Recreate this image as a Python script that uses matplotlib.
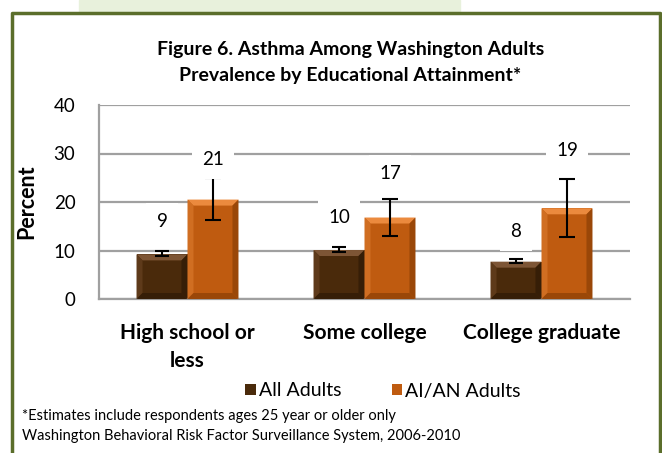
import numpy as np
import matplotlib
matplotlib.use('Agg')
import matplotlib.pyplot as plt
from matplotlib.patches import Rectangle, Polygon

plt.rcParams['font.family'] = ['Lato', 'DejaVu Sans']

categories = ['High school or\nless', 'Some college', 'College graduate']
series = ['All Adults', 'AI/AN Adults']
all_adults = [9.2, 10.1, 7.7]
all_lo = [8.8, 9.7, 7.4]
all_hi = [9.8, 10.7, 8.2]
aian = [20.5, 16.8, 18.7]
aian_lo = [16.3, 13.0, 12.7]
aian_hi = [24.9, 20.7, 24.8]
all_labels = ['9', '10', '8']
aian_labels = ['21', '17', '19']
# where the data labels sit (y, percent)
all_label_y = [15.9, 16.9, 13.9]
aian_label_y = [28.7, 25.8, 30.7]

colors = {'All Adults': ('#4a2a0b', '#7d5535', '#5e3a1a', '#361e07'),
          'AI/AN Adults': ('#bf5b10', '#eb8a3e', '#d06e22', '#9a4708')}

W, H = 662, 453
fig = plt.figure(figsize=(W / 100, H / 100), dpi=100)

# frame and green header strip
fig.patches.append(Rectangle((79 / W, 1 - 12 / H), (460 - 79) / W, 12 / H,
                             transform=fig.transFigure, color='#e8f1dc', zorder=0))
fig.lines.append(plt.Line2D([12 / W, 12 / W, 659.5 / W, 659.5 / W],
                            [0, 1 - 12.5 / H, 1 - 12.5 / H, 0],
                            transform=fig.transFigure, color='#5b6e2b', lw=2.5))

ax = fig.add_axes([99 / W, 1 - 299 / H, (630 - 99) / W, (299 - 105) / H])
ax.set_ylim(0, 40)
ax.set_xlim(-0.5, 2.5)
for s in ['top', 'right']:
    ax.spines[s].set_visible(False)
for s in ['left', 'bottom']:
    ax.spines[s].set_color('#a0a0a0')
    ax.spines[s].set_linewidth(1.6)
ax.set_yticks([0, 10, 20, 30, 40])
ax.yaxis.grid(True, color='#a0a0a0', lw=1.6)
ax.set_axisbelow(True)
ax.tick_params(axis='y', length=0, pad=17, labelsize=13.5)
ax.tick_params(axis='x', length=0, pad=17)

x = np.arange(len(categories))
bw = 0.288
bx = 6 / 177.0   # bevel width in data units
by = 6 / 194.0 * 40


def bevel_bars(xs, vals, name):
    base, top, side, dark = colors[name]
    bars = ax.bar(xs, vals, bw, color=base, edgecolor='none', zorder=2, label=name)
    for b in bars:
        x0, w, h = b.get_x(), b.get_width(), b.get_height()
        x1 = x0 + w
        ax.add_patch(Polygon([(x0, h), (x1, h), (x1 - bx, h - by), (x0 + bx, h - by)],
                             color=top, zorder=3, lw=0))
        ax.add_patch(Polygon([(x0, 0), (x0, h), (x0 + bx, h - by), (x0 + bx, by)],
                             color=side, zorder=3, lw=0))
        ax.add_patch(Polygon([(x1, 0), (x1, h), (x1 - bx, h - by), (x1 - bx, by)],
                             color=dark, zorder=3, lw=0))
        ax.add_patch(Polygon([(x0, 0), (x1, 0), (x1 - bx, by), (x0 + bx, by)],
                             color=dark, zorder=3, lw=0))
    return bars


pos_all = x - bw / 2
pos_aian = x + bw / 2
bevel_bars(pos_all, all_adults, 'All Adults')
bevel_bars(pos_aian, aian, 'AI/AN Adults')

ax.errorbar(pos_all, all_adults,
            yerr=[np.subtract(all_adults, all_lo), np.subtract(all_hi, all_adults)],
            fmt='none', ecolor='black', elinewidth=1.5, capsize=5, capthick=1.5, zorder=4)
ax.errorbar(pos_aian, aian,
            yerr=[np.subtract(aian, aian_lo), np.subtract(aian_hi, aian)],
            fmt='none', ecolor='black', elinewidth=1.5, capsize=6, capthick=1.5, zorder=4)

box = dict(facecolor='white', edgecolor='none', pad=7.5)
for xp, yp, t in zip(pos_all, all_label_y, all_labels):
    ax.text(xp, yp, t, ha='center', va='center', fontsize=13.5, bbox=box, zorder=5)
for xp, yp, t in zip(pos_aian, aian_label_y, aian_labels):
    ax.text(xp, yp, t, ha='center', va='center', fontsize=13.5, bbox=box, zorder=5)

ax.set_xticks(x)
ax.set_xticklabels(categories, fontsize=15, fontweight='bold', linespacing=1.5, va='top')
ax.set_ylabel('Percent', fontsize=15.5, fontweight='bold', labelpad=12)

fig.text(351 / W, 1 - 49 / H, 'Figure 6. Asthma Among Washington Adults',
         ha='center', va='center', fontsize=14, fontweight='bold')
fig.text(350 / W, 1 - 75 / H, 'Prevalence by Educational Attainment*',
         ha='center', va='center', fontsize=14, fontweight='bold')

leg = fig.legend(loc='center', bbox_to_anchor=(383 / W, 1 - 391 / H), ncol=2, frameon=False,
                 fontsize=14, handlelength=0.55, handleheight=0.55, handletextpad=0.15,
                 columnspacing=2.6)

fig.text(22 / W, 1 - 416 / H, '*Estimates include respondents ages 25 year or older only',
         ha='left', va='center', fontsize=10.5)
fig.text(22 / W, 1 - 436 / H, 'Washington Behavioral Risk Factor Surveillance System, 2006-2010',
         ha='left', va='center', fontsize=10.5)

fig.savefig('out.png', dpi=100)
